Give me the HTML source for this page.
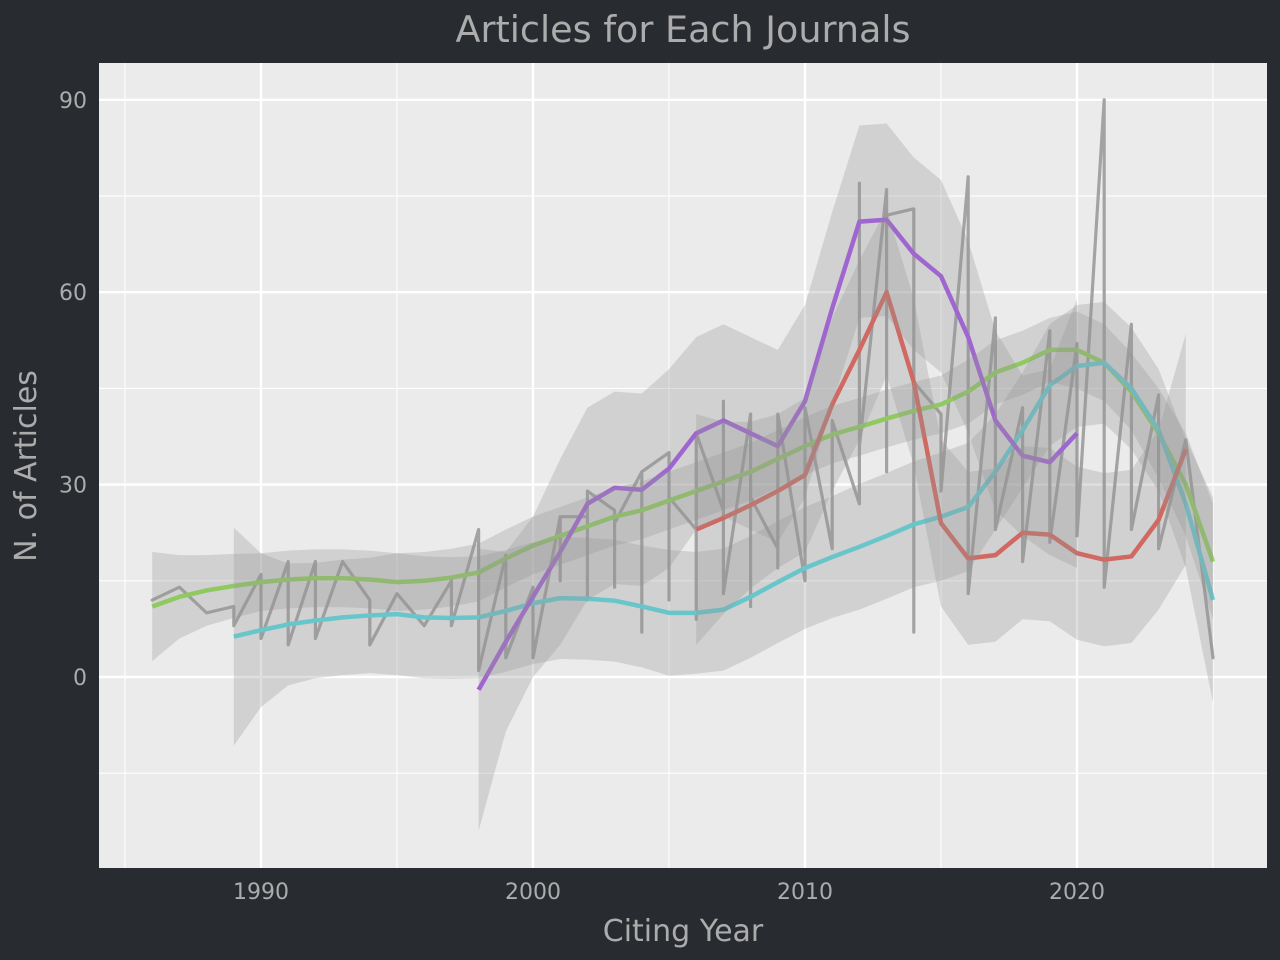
<!DOCTYPE html>
<html><head><meta charset="utf-8"><style>
html,body{margin:0;padding:0;background:#282b30;}
svg{display:block;font-family:"DejaVu Sans","Liberation Sans",sans-serif;}
</style></head><body>
<svg id="chart" width="1280" height="960" viewBox="0 0 1280 960" xmlns="http://www.w3.org/2000/svg">
<rect x="0" y="0" width="1280" height="960" fill="#282b30"/>
<rect x="99" y="63" width="1168" height="805" fill="#ebebeb"/>
<g id="grid"></g>
<g id="rawg"></g>
<g id="lines"></g>
<g id="bands"></g>
<g id="ticks"></g>
<text x="683" y="42" text-anchor="middle" font-size="36.5" fill="#acacac">Articles for Each Journals</text>
<text x="683" y="941" text-anchor="middle" font-size="30" fill="#acacac">Citing Year</text>
<text x="36" y="466" text-anchor="middle" font-size="30" fill="#acacac" transform="rotate(-90 36 466)">N. of Articles</text>
</svg>
<script>
const xMajor=[1990,2000,2010,2020];
const xMinor=[1985,1995,2005,2015,2025];
const yMajor=[0,30,60,90];
const yMinor=[-15,15,45,75];
const rawYears=[1986,1987,1988,1989,1989,1990,1990,1991,1991,1992,1992,1993,1994,1994,1995,1996,1997,1997,1998,1998,1999,1999,2000,2000,2001,2001,2001,2002,2002,2002,2003,2003,2003,2004,2004,2004,2005,2005,2005,2006,2006,2006,2007,2007,2007,2008,2008,2008,2009,2009,2009,2010,2010,2011,2011,2012,2012,2012,2013,2013,2013,2014,2014,2014,2015,2015,2016,2016,2017,2017,2018,2018,2019,2019,2020,2020,2021,2021,2022,2022,2023,2023,2024,2025];
const rawValues=[12,14,10,11,8,16,6,18,5,18,6,18,12,5,13,8,15,8,23,1,19,3,14,3,25,15,25,25,12,29,26,14,24,32,7,32,35,12,28,23,9,38,26,43,13,41,11,28,20,17,41,15,42,20,40,27,77,36,76,32,72,73,7,46,41,29,78,13,56,23,42,18,54,21,52,22,90,14,55,23,44,20,37,3];
const years=[1986,1987,1988,1989,1990,1991,1992,1993,1994,1995,1996,1997,1998,1999,2000,2001,2002,2003,2004,2005,2006,2007,2008,2009,2010,2011,2012,2013,2014,2015,2016,2017,2018,2019,2020,2021,2022,2023,2024,2025];
const greenValues=[11,12.5,13.5,14.2,14.8,15.2,15.4,15.4,15.2,14.8,15,15.5,16.3,18.5,20.5,22,23.5,25,26,27.5,29,30.5,32,34,36,37.8,39,40.3,41.5,42.5,44.5,47.5,49,51,51,49,44.5,38,30,18];
const greenHalf=[8.5,6.5,5.5,5,4.5,4.5,4.5,4.5,4.5,4.5,4.5,4.5,4.5,4.5,4.5,4.5,4.5,4.5,4.5,4.5,4.5,4.5,4.5,4.5,4.5,4.5,4.5,4.5,4.5,4.5,5,5,5,5,6,6,6,7,8,9];
const cyanYears=[1989,1990,1991,1992,1993,1994,1995,1996,1997,1998,1999,2000,2001,2002,2003,2004,2005,2006,2007,2008,2009,2010,2011,2012,2013,2014,2015,2016,2017,2018,2019,2020,2021,2022,2023,2024,2025];
const cyanValues=[6.3,7.3,8.2,8.8,9.3,9.6,9.8,9.3,9.2,9.3,10.3,11.5,12.3,12.2,11.9,11,10,10,10.5,12.5,14.8,17,18.7,20.3,22,23.8,25,26.5,32,38.5,45.5,48.5,49,45,38.5,27,12];
const cyanHalf=[17,12,9.5,9,9,9,9.5,9.5,9.5,9.5,9.5,9.5,9.5,9.5,9.5,9.5,9.8,9.5,9.5,9.5,9.5,9.5,9.5,9.8,9.8,9.8,10,10,9,9,9.5,9.5,9.5,9.5,9.5,10,16];
const purpleYears=[1998,1999,2000,2001,2002,2003,2004,2005,2006,2007,2008,2009,2010,2011,2012,2013,2014,2015,2016,2017,2018,2019,2020];
const purpleValues=[-2,5.5,12.5,19.5,27,29.5,29.2,32.5,38,40,38,36,43,57.5,71,71.3,66,62.5,53,40,34.5,33.5,38];
const purpleHalf=[22,14,12.5,14.5,15,15,15,15.5,15,15,15,15,15,15,15,15,15,15,15,14,12.5,14.5,21];
const redYears=[2006,2007,2008,2009,2010,2011,2012,2013,2014,2015,2016,2017,2018,2019,2020,2021,2022,2023,2024];
const redValues=[23,24.8,26.8,29,31.5,42.5,51,60,46,24,18.5,19,22.5,22.2,19.3,18.3,18.8,24.5,35.5];
const redHalf=[18,15,13,12,12,13.5,14,13,13,13,13.5,13.5,13.5,13.5,13.5,13.5,13.5,14,18];

const NS='http://www.w3.org/2000/svg';
function X(yr){return 261+(yr-1990)*27.2;}
function Y(v){return 677-v*6.413;}
function mk(tag,attrs,parent){const e=document.createElementNS(NS,tag);for(const k in attrs)e.setAttribute(k,attrs[k]);parent.appendChild(e);return e;}
const grid=document.getElementById('grid');
xMinor.forEach(yr=>{const l=mk('line',{x1:X(yr),x2:X(yr),y1:63,y2:868,stroke:'#fff','stroke-width':1.1},grid);

});
yMinor.forEach(v=>{const l=mk('line',{x1:99,x2:1267,y1:Y(v),y2:Y(v),stroke:'#fff','stroke-width':1.1},grid);

});
xMajor.forEach(yr=>{const l=mk('line',{x1:X(yr),x2:X(yr),y1:63,y2:868,stroke:'#fff','stroke-width':2.4},grid);

});
yMajor.forEach(v=>{const l=mk('line',{x1:99,x2:1267,y1:Y(v),y2:Y(v),stroke:'#fff','stroke-width':2.4},grid);

});
const ticks=document.getElementById('ticks');
xMajor.forEach(yr=>{const t=mk('text',{x:X(yr),y:899,'text-anchor':'middle','font-size':22,fill:'#acacac'},ticks);t.textContent=yr;

});
yMajor.forEach(v=>{const t=mk('text',{x:87,y:Y(v)+8,'text-anchor':'end','font-size':22,fill:'#acacac'},ticks);t.textContent=v;

});
const raw=document.getElementById('rawg');
const rp=mk('polyline',{points:rawYears.map((y,i)=>X(y)+','+Y(rawValues[i])).join(' '),fill:'none',stroke:'#a3a3a3','stroke-width':3.2,'stroke-linejoin':'round','stroke-linecap':'round'},raw);


const lines=document.getElementById('lines'),bands=document.getElementById('bands');
function series(name,xs,vs,hs,color){
 const b=mk('polygon',{points:xs.map((y,i)=>X(y)+','+Y(vs[i]+hs[i])).concat(xs.slice().reverse().map((y,j)=>{const i=xs.length-1-j;return X(y)+','+Y(vs[i]-hs[i]);})).join(' '),fill:'rgba(150,150,150,0.3)',stroke:'none'},bands);
 
 
 const l=mk('polyline',{points:xs.map((y,i)=>X(y)+','+Y(vs[i])).join(' '),fill:'none',stroke:color,'stroke-width':4.5,'stroke-linejoin':'round'},lines);
 
 
}
series('green-journal',years,greenValues,greenHalf,'#8ee04a');
series('cyan-journal',cyanYears,cyanValues,cyanHalf,'#55dbe2');
series('red-journal',redYears,redValues,redHalf,'#e8574b');
series('purple-journal',purpleYears,purpleValues,purpleHalf,'#a552ea');
</script>
</body></html>
